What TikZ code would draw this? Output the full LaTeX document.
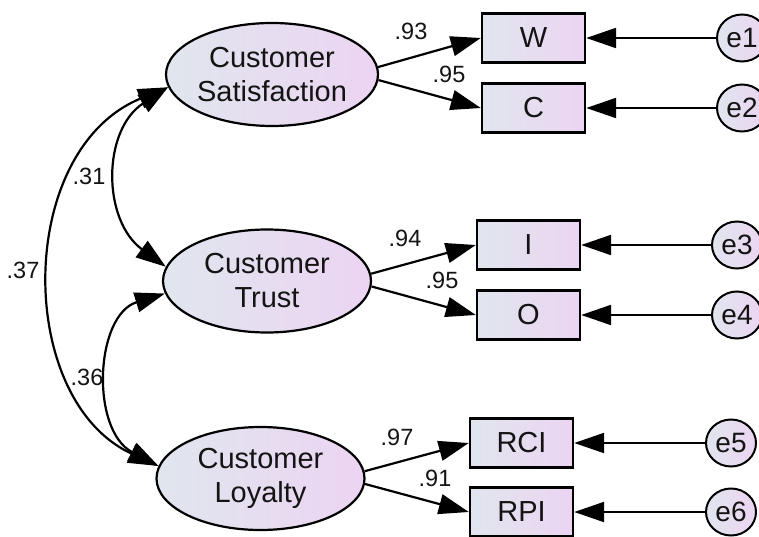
\documentclass[tikz,border=0pt]{standalone}
\usepackage{fontspec}
\setmainfont{Liberation Sans}
\usetikzlibrary{arrows.meta,shapes.geometric}

\definecolor{shadeL}{RGB}{224,230,238}
\definecolor{shadeR}{RGB}{236,212,242}
\definecolor{ink}{RGB}{20,20,20}

\tikzset{
  fillgrad/.style={left color=shadeL, right color=shadeR},
  latent/.style={ellipse, draw, line width=2.2pt, fillgrad, minimum width=208pt,
    minimum height=103pt, inner sep=0pt, align=center, text=ink,
    font=\fontsize{29}{34}\selectfont},
  observed/.style={rectangle, draw, line width=2.4pt, fillgrad, minimum width=103pt,
    minimum height=49pt, inner sep=0pt, text=ink, font=\fontsize{29}{34}\selectfont},
  errterm/.style={ellipse, draw, line width=2pt, fillgrad, minimum width=50pt,
    minimum height=47pt, inner sep=0pt, text=ink, font=\fontsize{28}{32}\selectfont},
  headtip/.tip={Triangle[length=30pt,width=20pt]},
  loadarrow/.style={line width=2.2pt, -headtip},
  covarrow/.style={line width=2.2pt, headtip-headtip},
  coef/.style={inner sep=0pt, text=ink, font=\fontsize{23.5}{27}\selectfont}
}

\begin{document}
\begin{tikzpicture}[x=1pt, y=-1pt]
  \useasboundingbox (0,0) rectangle (759,537);
  \clip (0,0) rectangle (759,537);
  \fill[white] (0,0) rectangle (759,537);

  % latent factors
  \node[latent] (sat)   at (272,74.5)  {Customer\\Satisfaction};
  \node[latent] (trust) at (267,281)   {Customer\\Trust};
  \node[latent] (loy)   at (260.5,478.5) {Customer\\Loyalty};

  % indicators
  \node[observed] (w)   at (533.5,38)  {W};
  \node[observed] (c)   at (533.5,108) {C};
  \node[observed] (i)   at (528.5,245) {I};
  \node[observed] (o)   at (528.5,315) {O};
  \node[observed] (rci) at (521.5,443) {RCI};
  \node[observed] (rpi) at (521.5,512) {RPI};

  % error terms
  \node[errterm] (e1) at (742,38)  {e1};
  \node[errterm] (e2) at (742,108) {e2};
  \node[errterm] (e3) at (737,245) {e3};
  \node[errterm] (e4) at (737,315) {e4};
  \node[errterm] (e5) at (731,443) {e5};
  \node[errterm] (e6) at (731,512) {e6};

  % error paths
  \draw[loadarrow] (e1) -- (w);
  \draw[loadarrow] (e2) -- (c);
  \draw[loadarrow] (e3) -- (i);
  \draw[loadarrow] (e4) -- (o);
  \draw[loadarrow] (e5) -- (rci);
  \draw[loadarrow] (e6) -- (rpi);

  % factor loadings
  \draw[loadarrow] (sat.4)   -- (w.west);
  \draw[loadarrow] (sat.-3)  -- (c.west);
  \draw[loadarrow] (trust.4) -- (i.west);
  \draw[loadarrow] (trust.-3)-- (o.west);
  \draw[loadarrow] (loy.4)   -- (rci.west);
  \draw[loadarrow] (loy.-3)  -- (rpi.west);

  \node[coef] (l1) at (411,31)  {.93};
  \node[coef] (l2) at (449,74)  {.95};
  \node[coef] (l3) at (405,238) {.94};
  \node[coef] (l4) at (442,280) {.95};
  \node[coef] (l5) at (397,437) {.97};
  \node[coef] (l6) at (435,478) {.91};

  % covariances
  \draw[covarrow] (sat.187) .. controls (102,130) and (102,220) .. (trust.172);
  \draw[covarrow] (sat.187) .. controls (15,150) and (15,400) .. (loy.173);
  \draw[covarrow] (trust.187) .. controls (95,315) and (90,430) .. (loy.173);

  \node[coef] (k1) at (89,176) {.31};
  \node[coef] (k2) at (23,270) {.37};
  \node[coef] (k3) at (87,377) {.36};
\end{tikzpicture}
\end{document}
